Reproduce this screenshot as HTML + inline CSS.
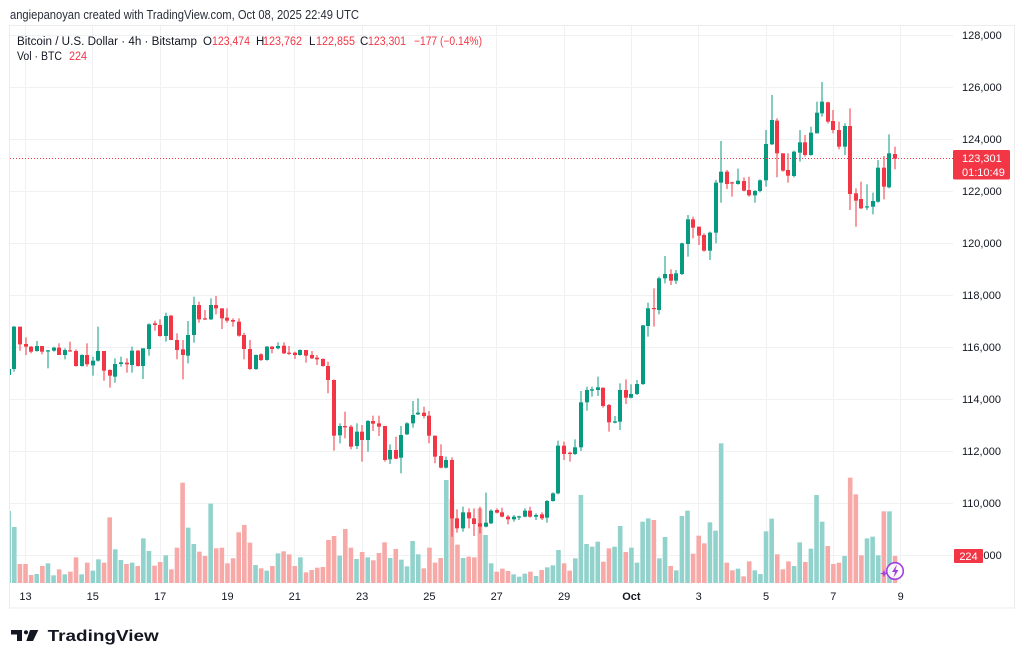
<!DOCTYPE html>
<html><head><meta charset="utf-8"><title>BTCUSD 4h</title>
<style>
html,body{margin:0;padding:0;background:#fff}
body{width:1024px;height:665px;overflow:hidden}
svg{display:block}
text{font-family:"Liberation Sans",Arial,sans-serif}
</style></head>
<body>
<svg id="s" width="1024" height="665" viewBox="0 0 1024 665" xmlns="http://www.w3.org/2000/svg">
<defs><clipPath id="cp"><rect x="10" y="26" width="943" height="558"/></clipPath></defs>
<rect width="1024" height="665" fill="#fff"/>
<text x="10" y="19" font-size="12.5" fill="#2a2e39" textLength="349" lengthAdjust="spacingAndGlyphs">angiepanoyan created with TradingView.com, Oct 08, 2025 22:49 UTC</text>
<rect x="9.5" y="25.5" width="1005" height="582.5" fill="#fff" stroke="#ececec"/>
<g stroke="#f0f1f3" stroke-width="1">
<line x1="10" x2="953" y1="35.5" y2="35.5"/>
<line x1="10" x2="953" y1="87.5" y2="87.5"/>
<line x1="10" x2="953" y1="139.5" y2="139.5"/>
<line x1="10" x2="953" y1="191.5" y2="191.5"/>
<line x1="10" x2="953" y1="243.5" y2="243.5"/>
<line x1="10" x2="953" y1="295.5" y2="295.5"/>
<line x1="10" x2="953" y1="347.5" y2="347.5"/>
<line x1="10" x2="953" y1="399.5" y2="399.5"/>
<line x1="10" x2="953" y1="451.5" y2="451.5"/>
<line x1="10" x2="953" y1="503.5" y2="503.5"/>
<line x1="10" x2="953" y1="555.5" y2="555.5"/>
<line y1="26" y2="584" x1="25.5" x2="25.5"/>
<line y1="26" y2="584" x1="92.5" x2="92.5"/>
<line y1="26" y2="584" x1="160.5" x2="160.5"/>
<line y1="26" y2="584" x1="227.5" x2="227.5"/>
<line y1="26" y2="584" x1="294.5" x2="294.5"/>
<line y1="26" y2="584" x1="362.5" x2="362.5"/>
<line y1="26" y2="584" x1="429.5" x2="429.5"/>
<line y1="26" y2="584" x1="496.5" x2="496.5"/>
<line y1="26" y2="584" x1="564.5" x2="564.5"/>
<line y1="26" y2="584" x1="631.5" x2="631.5"/>
<line y1="26" y2="584" x1="698.5" x2="698.5"/>
<line y1="26" y2="584" x1="766.5" x2="766.5"/>
<line y1="26" y2="584" x1="833.5" x2="833.5"/>
<line y1="26" y2="584" x1="900.5" x2="900.5"/>
</g>
<g id="vol" clip-path="url(#cp)"></g>
<g id="cdl" clip-path="url(#cp)"></g>
<line x1="10" x2="953" y1="158.5" y2="158.5" stroke="#f23645" stroke-width="1" stroke-dasharray="1,2"/>

<!-- legend -->
<g font-size="11.5">
<text x="17" y="45" fill="#131722" textLength="180" lengthAdjust="spacingAndGlyphs">Bitcoin / U.S. Dollar · 4h · Bitstamp</text>
<text x="203" y="45" fill="#131722">O</text>
<text x="212" y="45" fill="#f23645" textLength="38" lengthAdjust="spacingAndGlyphs">123,474</text>
<text x="256" y="45" fill="#131722">H</text>
<text x="263" y="45" fill="#f23645" textLength="39" lengthAdjust="spacingAndGlyphs">123,762</text>
<text x="309" y="45" fill="#131722">L</text>
<text x="316" y="45" fill="#f23645" textLength="39" lengthAdjust="spacingAndGlyphs">122,855</text>
<text x="360" y="45" fill="#131722">C</text>
<text x="368" y="45" fill="#f23645" textLength="38" lengthAdjust="spacingAndGlyphs">123,301</text>
<text x="414" y="45" fill="#f23645" textLength="68" lengthAdjust="spacingAndGlyphs">−177 (−0.14%)</text>
<text x="17" y="60" fill="#131722" textLength="45" lengthAdjust="spacingAndGlyphs">Vol · BTC</text>
<text x="69" y="60" fill="#f23645" textLength="18" lengthAdjust="spacingAndGlyphs">224</text>
</g>

<!-- price axis -->
<g font-size="11" fill="#131722">
<text x="962" y="39">128,000</text>
<text x="962" y="91">126,000</text>
<text x="962" y="143">124,000</text>
<text x="962" y="195">122,000</text>
<text x="962" y="247">120,000</text>
<text x="962" y="299">118,000</text>
<text x="962" y="351">116,000</text>
<text x="962" y="403">114,000</text>
<text x="962" y="455">112,000</text>
<text x="962" y="507">110,000</text>
<text x="962" y="559">108,000</text>
</g>
<rect x="953" y="150" width="57" height="29.5" rx="1.5" fill="#f23645"/>
<text x="962" y="162" font-size="11" fill="#fff">123,301</text>
<text x="962" y="176" font-size="11" fill="#fff">01:10:49</text>
<rect x="954" y="549" width="29" height="14" rx="1" fill="#f23645"/>
<text x="968.5" y="560" font-size="11" fill="#fff" text-anchor="middle">224</text>

<!-- time axis -->
<g font-size="11" fill="#131722" text-anchor="middle">
<text x="25.5" y="600">13</text>
<text x="92.8" y="600">15</text>
<text x="160.1" y="600">17</text>
<text x="227.5" y="600">19</text>
<text x="294.8" y="600">21</text>
<text x="362.1" y="600">23</text>
<text x="429.4" y="600">25</text>
<text x="496.7" y="600">27</text>
<text x="564.1" y="600">29</text>
<text x="631.4" y="600" font-weight="bold">Oct</text>
<text x="698.7" y="600">3</text>
<text x="766" y="600">5</text>
<text x="833.3" y="600">7</text>
<text x="900.7" y="600">9</text>
</g>

<!-- lightning icon -->
<circle cx="895" cy="571" r="8.3" fill="#fff" fill-opacity="0.85" stroke="#a040e0" stroke-width="1.6"/>
<path d="M897 564.5 L892 572 H895 L893.5 577.5 L898.5 570 H895.5 Z" fill="#a040e0"/>
<path d="M884 569.5 L885 572.5 L888 573.5 L885 574.5 L884 577.5 L883 574.5 L880 573.5 L883 572.5 Z" fill="#a040e0"/>

<!-- logo -->
<path d="M11 630 H22 V641 H17 V634.5 H11 Z" fill="#131722"/>
<circle cx="26" cy="632.3" r="2.1" fill="#131722"/>
<path d="M30 630 H38.3 L33 641 H26.3 Z" fill="#131722"/>
<text x="47.7" y="641" font-size="15.5" font-weight="bold" fill="#131722" textLength="111" lengthAdjust="spacingAndGlyphs">TradingView</text>
</svg>
<script>
(function(){
var NS="http://www.w3.org/2000/svg";
var gv=document.getElementById('vol'), gc=document.getElementById('cdl');
function mk(g,x,y,w,h,f){var r=document.createElementNS(NS,'rect');r.setAttribute('x',x.toFixed(2));r.setAttribute('y',y.toFixed(2));r.setAttribute('width',w.toFixed(2));r.setAttribute('height',Math.max(0,h).toFixed(2));r.setAttribute('fill',f);g.appendChild(r);}
function seg(rows,oy,start){
 for(var j=0;j<rows.length;j++){
  var r=rows[j], i=start+j, x=14.3+(i-2)*5.61;
  var col=r[0]?'#089981':'#f23645', vcol=r[0]?'#92d2cc':'#f7a9a7';
  var bt=oy+r[1]/3, bb=oy+r[2]/3, wt=oy+r[3]/3, wb=oy+r[4]/3, vt=oy+r[5]/3;
  mk(gv,x-2.3,vt,4.6,583-vt,vcol);
  var bx=Math.round(x-2);
  mk(gc,bx+1.5,wt,1,wb-wt,col);
  mk(gc,bx,bt,4,Math.max(1.2,bb-bt),col);
 }
}
var A=[[1,237,255,235,257,663],[1,110,237,108,245,711],[0,110,163,110,182,822],[0,162,170,142,195,822],[0,170,185,168,190,855],[1,168,183,153,185,852],[0,168,185,168,193,828],[1,181,183,180,235,820],[1,173,182,170,185,856],[0,173,195,160,195,838],[1,180,195,175,208,853],[0,181,183,155,185,845],[0,183,228,178,230,802],[1,195,228,193,230,853],[0,195,223,160,230,818],[1,212,226,200,257,842],[1,183,212,110,215,808],[0,183,242,183,272,818],[0,240,257,238,293,682],[1,222,260,205,278,778],[1,217,222,200,230,810],[0,218,223,205,248,822],[1,182,225,170,248,818],[0,182,228,180,230,828],[1,175,228,175,267,745],[1,103,177,100,197,783],[0,100,105,92,122,827],[0,105,138,88,140,816],[1,78,138,68,155,796],[0,77,150,75,150,838],[0,150,180,130,208,773],[0,178,195,150,268,578],[1,135,197,93,220,713],[1,45,135,20,158,762],[0,45,88,35,98,785],[0,85,88,60,90,798],[1,45,88,25,90,641],[0,45,55,18,73,775],[0,55,85,55,117,773],[0,83,92,55,98,820],[0,90,95,85,110,805],[0,95,137,85,140,727],[0,135,177,128,208,705],[0,177,237,150,240,758],[1,195,237,193,240,825],[0,193,210,190,213,835],[1,170,210,168,212,842],[0,170,177,168,190,828],[1,168,175,157,178,790],[0,167,190,157,192,784],[0,188,190,168,195,793],[0,188,195,185,207,828],[1,180,195,178,197,802],[0,180,197,180,218,847],[0,195,205,183,207,840],[0,203,208,195,225,833],[0,207,228,205,230,831],[0,228,270,215,310,750],[0,270,437,268,482,738]];
var B=[[1,528,556,520,580,917],[0,528,532,485,565,837],[0,530,590,525,598,893],[1,545,588,520,597,927],[0,545,570,525,635,906],[1,513,570,510,605,922],[0,513,521,497,543,931],[0,520,530,497,558,909],[0,528,630,528,635,877],[1,600,628,583,642,924],[0,600,626,560,628,897],[1,555,623,528,670,929],[1,520,553,517,555,949],[1,495,520,453,533,873],[1,488,493,445,495,913],[0,488,498,470,505,955],[0,497,557,483,580,893],[0,557,620,557,640,938],[0,618,653,583,655,924],[1,630,653,620,655,690],[0,630,805,622,860,747],[0,805,835,778,848,884],[1,787,835,770,845,924],[0,787,805,775,835,920],[0,805,822,775,858,922],[0,820,830,770,850,775],[1,818,830,728,832,855],[1,782,820,778,822,940],[0,780,788,775,790,965],[0,787,800,773,802,956],[0,800,808,795,823,963],[1,800,808,795,815,973],[1,799,801,797,810,980],[1,782,800,775,802,971],[0,782,800,770,803,965],[1,795,800,790,810,978],[0,793,805,787,810,960],[1,753,803,750,818,952],[1,730,753,727,755,946],[1,587,730,572,733,900],[0,587,612,575,630,940],[0,608,612,605,635,962],[1,592,612,568,615,925],[1,457,592,423,603,735],[1,420,457,410,482,882],[1,418,422,410,440,890],[1,412,420,380,438,875],[0,413,468,413,473,935],[0,465,517,462,545,895],[1,514,518,498,520,890],[1,420,515,400,540,828],[0,420,443,388,462,906],[1,432,443,403,445,893],[1,402,432,390,435,938],[1,226,402,225,405,815],[1,175,228,158,260,805],[0,174,176,115,230,810],[1,85,180,80,193,925],[1,72,85,18,100,861]];
var C=[[0,552,572,538,585,1428],[1,550,572,540,582,1441],[1,460,552,458,555,1278],[1,388,462,375,500,1262],[0,388,413,380,445,1391],[0,410,437,410,465,1337],[0,435,482,430,485,1360],[1,428,482,425,510,1297],[1,278,428,270,460,1322],[1,245,278,153,338,1060],[0,245,282,240,297,1418],[0,277,279,275,320,1441],[1,272,282,236,284,1436],[0,273,302,262,304,1459],[0,300,316,260,320,1414],[1,303,316,300,338,1441],[1,271,303,268,307,1452],[1,162,271,120,290,1324],[1,90,163,15,165,1286],[0,92,190,85,262,1393],[0,190,242,190,245,1438],[0,240,257,190,278,1414],[1,185,258,182,262,1428],[1,157,188,120,215,1357],[0,157,195,135,200,1416],[1,128,195,110,197,1376],[1,68,130,35,130,1215],[1,35,70,-24,80,1295],[0,37,95,35,100,1368],[0,93,120,60,130,1422],[0,120,170,95,178,1418],[1,108,170,100,195,1398],[0,108,312,55,360,1163],[0,310,332,295,410,1213],[0,327,355,275,357,1396],[1,349,351,283,360,1345],[1,333,350,308,373,1340],[1,233,335,210,338,1396],[0,233,290,198,328,1264],[1,190,292,133,295,1264],[0,192,206,170,238,1398]];
seg(A,290,1);seg(B,250,60);seg(C,90,119);
})();
</script>
</body></html>
